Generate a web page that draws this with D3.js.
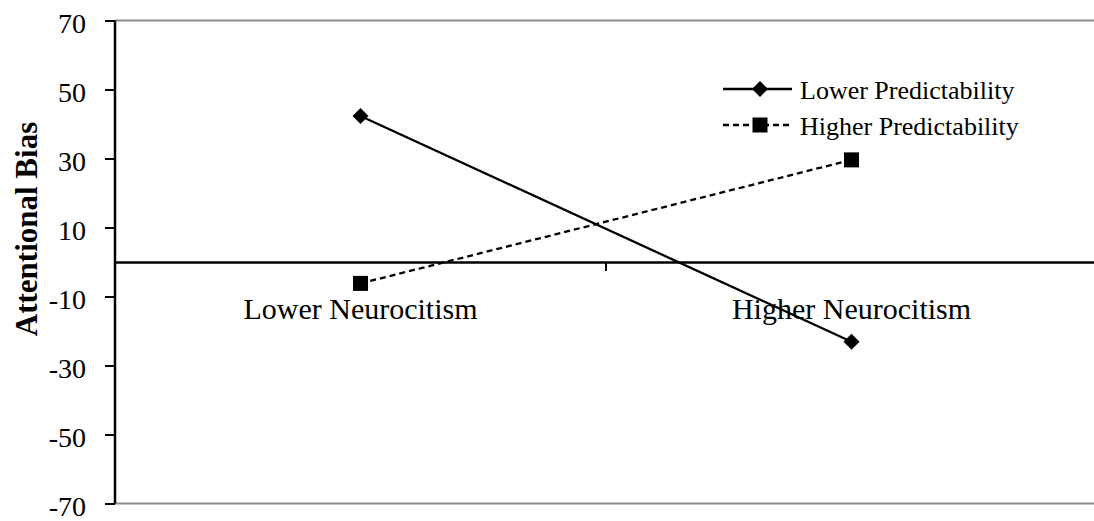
<!DOCTYPE html>
<html>
<head>
<meta charset="utf-8">
<script src="https://cdn.jsdelivr.net/npm/d3@7"></script>
<style>
  html, body { margin: 0; padding: 0; background: #fff; }
  svg { display: block; font-family: "Liberation Serif", "Times New Roman", serif; }
</style>
</head>
<body>
<svg id="chart" width="1094" height="521"></svg>
<script>
// Neuroticism groups on the x axis
const categories = ["Lower Neurocitism", "Higher Neurocitism"];
// Attentional bias per group for each predictability condition
const lowerPredictability = [42.3, -23.1];
const higherPredictability = [-6.2, 29.6];
const seriesNames = ["Lower Predictability", "Higher Predictability"];
const yTicks = [-70, -50, -30, -10, 10, 30, 50, 70];

const serif = "Liberation Serif, Times New Roman, serif";
const svg = d3.select("#chart");
const margin = { left: 115, right: -3, top: 20.5, bottom: 17.5 };
const W = 1094, H = 521;

const x = d3.scaleBand().domain(categories).range([margin.left, W - margin.right]);
const y = d3.scaleLinear().domain([-70, 70]).range([H - margin.bottom, margin.top]);

// plot area top/bottom border
[70, -70].forEach(v => {
  svg.append("line").attr("x1", margin.left).attr("x2", W - margin.right)
    .attr("y1", y(v)).attr("y2", y(v)).attr("stroke", "#8c8c8c").attr("stroke-width", 2);
});

// y axis (plain hyphen for negatives)
const yAxis = svg.append("g").attr("transform", `translate(${margin.left},0)`)
  .call(d3.axisLeft(y).tickValues(yTicks).tickSize(10).tickPadding(19)
    .tickFormat(d => String(d)));
yAxis.select(".domain").attr("stroke", "#000").attr("stroke-width", 2.5).attr("d", `M0,${y(70)}V${y(-70)}`);
yAxis.selectAll(".tick line").attr("stroke", "#000").attr("stroke-width", 2);
yAxis.selectAll(".tick text").attr("font-size", 28).attr("fill", "#000")
  .attr("font-family", serif).attr("dy", "0.43em");

// x axis along zero
const xAxis = svg.append("g").attr("transform", `translate(0,${y(0)})`)
  .call(d3.axisBottom(x).tickSize(0).tickPadding(0));
xAxis.select(".domain").attr("stroke", "#000").attr("stroke-width", 2.5);
xAxis.selectAll(".tick text").attr("font-size", 30).attr("fill", "#000")
  .attr("font-family", serif).attr("dy", null).attr("y", 319 - y(0));
// tick between categories
svg.append("line").attr("x1", x(categories[1])).attr("x2", x(categories[1]))
  .attr("y1", y(0)).attr("y2", y(0) + 9).attr("stroke", "#000").attr("stroke-width", 2);

// y title
svg.append("text")
  .attr("transform", `translate(37,229) rotate(-90)`)
  .attr("text-anchor", "middle")
  .attr("font-size", 31).attr("font-weight", "bold")
  .text("Attentional Bias");

const cx = d => x(d) + x.bandwidth() / 2;
const line = d3.line().x((d, i) => cx(categories[i])).y(d => y(d));

svg.append("path").datum(lowerPredictability).attr("d", line)
  .attr("fill", "none").attr("stroke", "#000").attr("stroke-width", 2.3);
svg.append("path").datum(higherPredictability).attr("d", line)
  .attr("fill", "none").attr("stroke", "#000").attr("stroke-width", 2.3).attr("stroke-dasharray", "6,4");

const diamond = d3.symbol().type(d3.symbolSquare).size(128);
svg.selectAll(".dia").data(lowerPredictability).join("path")
  .attr("d", diamond)
  .attr("transform", (d, i) => `translate(${cx(categories[i])},${y(d)}) rotate(45)`)
  .attr("fill", "#000");
svg.selectAll(".sq").data(higherPredictability).join("rect")
  .attr("x", (d, i) => cx(categories[i]) - 7.5).attr("y", d => y(d) - 7.5)
  .attr("width", 15).attr("height", 15).attr("fill", "#000");

// legend
const rows = [89, 125];
seriesNames.forEach((name, i) => {
  const g = svg.append("g").attr("transform", `translate(0,${rows[i]})`);
  g.append("line").attr("x1", 723).attr("x2", 792).attr("y1", 0).attr("y2", 0)
    .attr("stroke", "#000").attr("stroke-width", 2.3)
    .attr("stroke-dasharray", i === 1 ? "6,4" : null);
  if (i === 0) {
    g.append("path").attr("d", diamond).attr("transform", "translate(760,0) rotate(45)").attr("fill", "#000");
  } else {
    g.append("rect").attr("x", 752.5).attr("y", -7.5).attr("width", 15).attr("height", 15).attr("fill", "#000");
  }
  g.append("text").attr("x", 800).attr("y", 10).attr("font-size", 26).text(name);
});
</script>
</body>
</html>
